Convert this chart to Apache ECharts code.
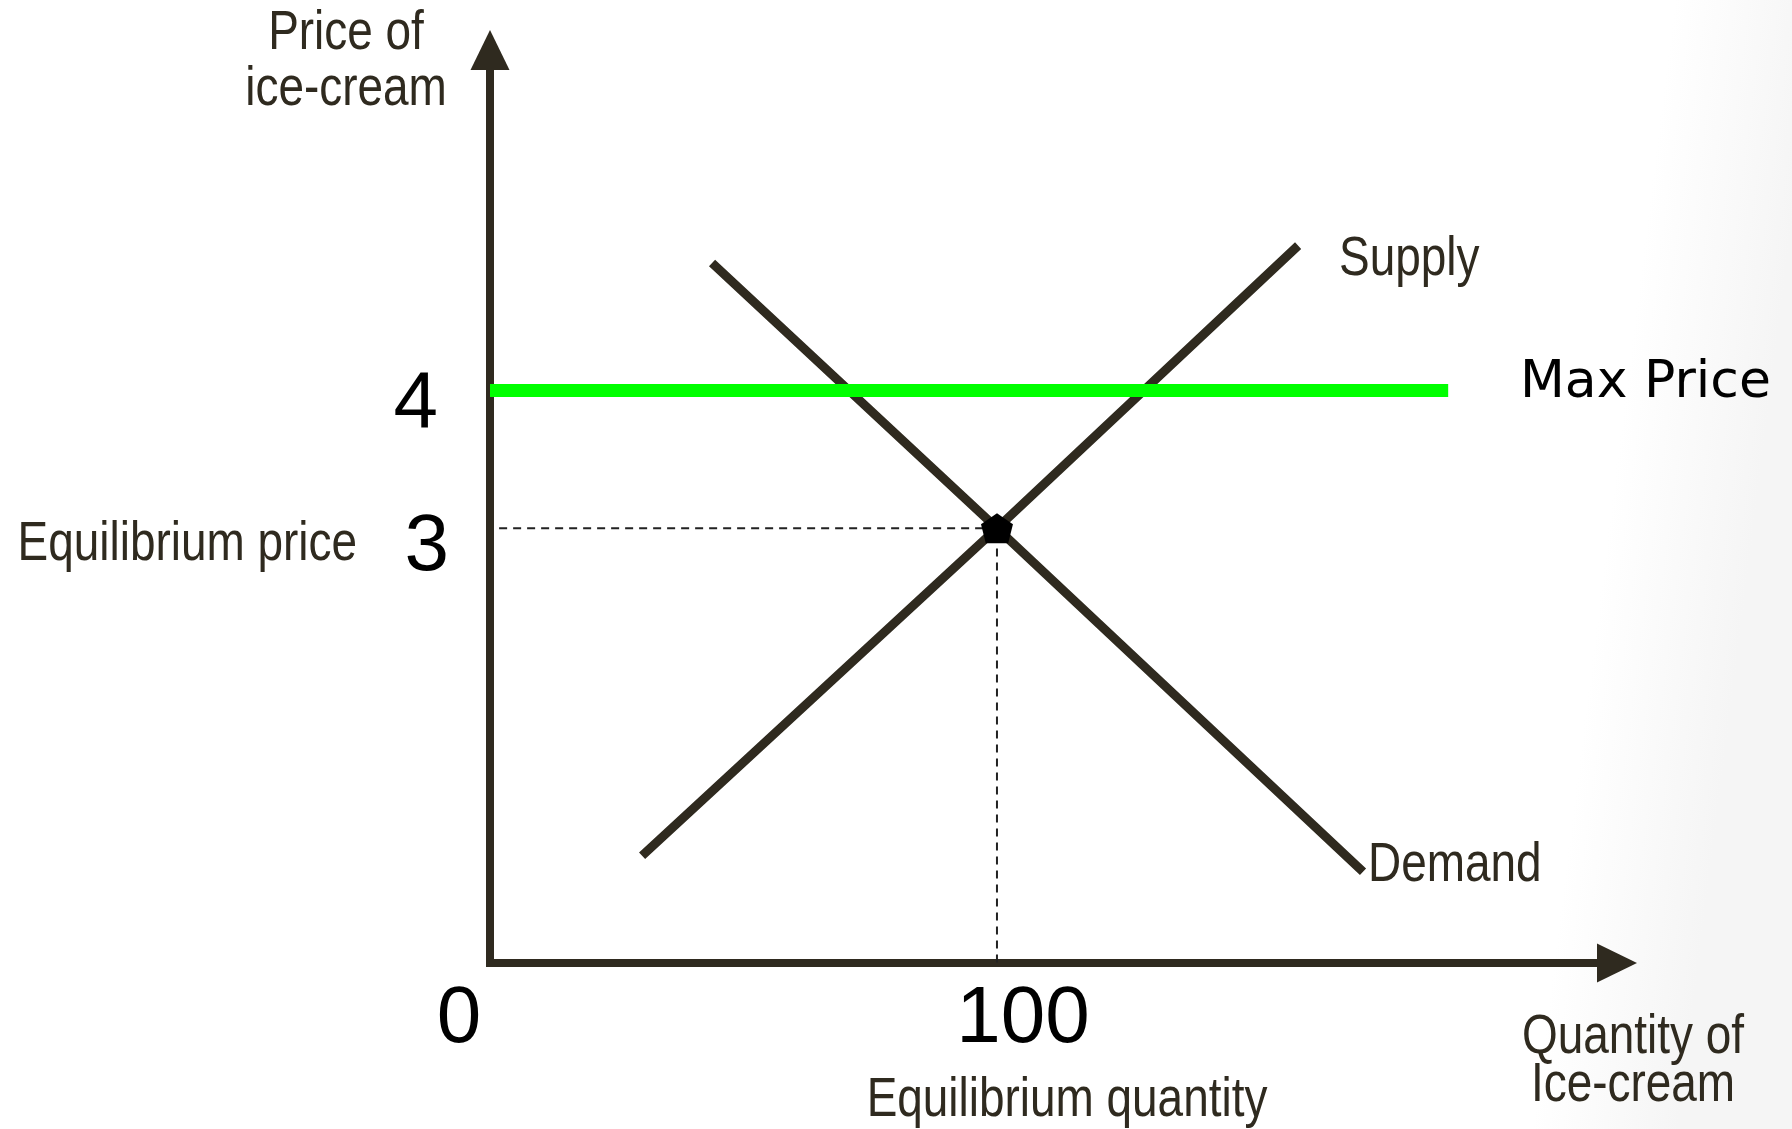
<!DOCTYPE html>
<html>
<head>
<meta charset="utf-8">
<title>Max price - ice-cream market</title>
<script src="https://cdn.jsdelivr.net/npm/echarts@6/dist/echarts.min.js"></script>
<style>
    html, body { margin: 0; padding: 0; background: #fff; }
    #chart { width: 1792px; height: 1129px; }
</style>
</head>
<body>
<div id="chart"></div>
<script type="text/javascript">
    // axis ranges (quantity, price)
    var quantityMax = 222.3;
    var priceMax = 6.3;
    var quantityTicks = [0, 100];
    var priceTicks = [3, 4];

    // supply & demand curves
    var supplyQ = [30, 100, 159.4];
    var supplyP = [0.74, 3, 4.95];
    var demandQ = [43.8, 100, 172.2];
    var demandP = [4.83, 3, 0.63];

    // price ceiling
    var maxPriceQ = [0, 189];
    var maxPriceP = [3.95, 3.95];

    // equilibrium + guide lines
    var eqQ = [100];
    var eqP = [3];
    var guideQ = [1.8, 100, 100];
    var guideP = [3, 3, 0];

    function pairs(xs, ys) {
        var out = [];
        for (var i = 0; i < xs.length; i++) {
            out.push([xs[i], ys[i]]);
        }
        return out;
    }

    var ink = '#2f2a1f';
    var sans = "'Liberation Sans', Arial, sans-serif";
    var digits = "'Comic Sans MS', 'Liberation Sans', sans-serif";

    // narrow text: Liberation Sans squeezed to look like Arial Narrow
    function label(text, x, y, align, extra) {
        var style = {text: text, font: '56px ' + sans, fill: ink, align: align, verticalAlign: 'middle'};
        if (extra) {
            for (var k in extra) style[k] = extra[k];
        }
        return {type: 'text', x: x, y: y, scaleX: 0.82, style: style};
    }

    var myChart = echarts.init(document.getElementById('chart'));

    var option = {
        backgroundColor: {
            type: 'linear', x: 0, y: 0, x2: 1, y2: 0.2,
            colorStops: [
                {offset: 0, color: '#ffffff'},
                {offset: 0.92, color: '#ffffff'},
                {offset: 1, color: '#f5f5f5'}
            ]
        },
        animation: false,
        grid: {left: 490, top: 50, width: 1127, height: 913},
        xAxis: {
            type: 'value',
            min: 0,
            max: quantityMax,
            interval: 100,
            splitLine: {show: false},
            axisTick: {show: false},
            axisLine: {
                symbol: ['none', 'triangle'],
                symbolSize: [39, 40],
                lineStyle: {color: ink, width: 8, cap: 'square'}
            },
            axisLabel: {
                margin: 17,
                showMaxLabel: false,
                formatter: function (v) {
                    if (quantityTicks.indexOf(v) < 0) return '';
                    return (v === 0 ? '{a|' : '{b|') + v + '}';
                },
                rich: {
                    a: {fontSize: 80, fontFamily: digits, color: '#000', padding: [0, 62, 0, 0]},
                    b: {fontSize: 80, fontFamily: digits, color: '#000', padding: [0, 0, 0, 52]}
                }
            }
        },
        yAxis: {
            type: 'value',
            min: 0,
            max: priceMax,
            interval: 1,
            splitLine: {show: false},
            axisTick: {show: false},
            axisLine: {
                symbol: ['none', 'triangle'],
                symbolSize: [39, 40],
                lineStyle: {color: ink, width: 8, cap: 'square'}
            },
            axisLabel: {
                margin: 41,
                showMaxLabel: false,
                formatter: function (v) {
                    if (priceTicks.indexOf(v) < 0) return '';
                    return (v === 4 ? '{a|' : '{b|') + v + '}';
                },
                rich: {
                    a: {fontSize: 80, fontFamily: digits, color: '#000', padding: [44, 11, 0, 0]},
                    b: {fontSize: 80, fontFamily: digits, color: '#000', padding: [40, 0, 0, 0]}
                }
            }
        },
        series: [
            {
                name: 'guide',
                type: 'line',
                data: pairs(guideQ, guideP),
                symbol: 'none',
                lineStyle: {color: '#222', width: 2, type: [8, 6]},
                z: 1
            },
            {
                name: 'Supply',
                type: 'line',
                data: pairs(supplyQ, supplyP),
                symbol: 'none',
                lineStyle: {color: ink, width: 9},
                z: 2
            },
            {
                name: 'Demand',
                type: 'line',
                data: pairs(demandQ, demandP),
                symbol: 'none',
                lineStyle: {color: ink, width: 9},
                z: 2
            },
            {
                name: 'Max Price',
                type: 'line',
                data: pairs(maxPriceQ, maxPriceP),
                symbol: 'none',
                lineStyle: {color: '#00ff00', width: 13},
                z: 3
            },
            {
                name: 'Equilibrium',
                type: 'scatter',
                data: pairs(eqQ, eqP),
                symbol: 'path://M10,0 L20,7 L17,19 L3,19 L0,7 Z',
                symbolSize: [32, 30],
                itemStyle: {color: '#000', opacity: 1},
                z: 10
            }
        ],
        graphic: [
            label('Price of\nice-cream', 346, 62, 'center', {lineHeight: 56}),
            label('Equilibrium price', 357, 545, 'right'),
            label('Supply', 1339, 260, 'left'),
            {type: 'text', x: 1520, y: 383, style: {text: 'Max Price', font: "52px 'DejaVu Sans', sans-serif", fill: '#000', align: 'left', verticalAlign: 'middle'}},
            label('Demand', 1368, 866, 'left'),
            label('Quantity of\nIce-cream', 1633, 1062, 'center', {lineHeight: 48}),
            label('Equilibrium quantity', 1067, 1101, 'center')
        ]
    };

    myChart.setOption(option, true);
</script>
</body>
</html>
